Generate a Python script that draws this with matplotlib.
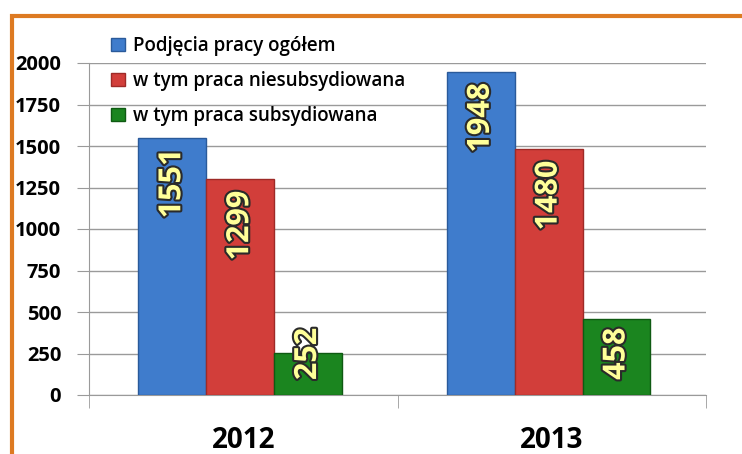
import numpy as np
import matplotlib
matplotlib.use("Agg")
import matplotlib.pyplot as plt
import matplotlib.patheffects as pe
from matplotlib.patches import Patch, Rectangle

years = ["2012", "2013"]
series_names = ["Podjęcia pracy ogółem",
                "w tym praca niesubsydiowana",
                "w tym praca subsydiowana"]
ogolem = [1551, 1948]
niesubsydiowana = [1299, 1480]
subsydiowana = [252, 458]

colors = ["#3f7ccc", "#d23e3a", "#1b851f"]
edges = ["#2a5a9a", "#9e2a27", "#0f5a12"]

plt.rcParams['font.family'] = ['Open Sans', 'DejaVu Sans']

W, H = 742, 454
fig = plt.figure(figsize=(W / 100, H / 100), dpi=100)

# orange frame (only top and left edges are visible)
fig.patches.append(Rectangle((11.5 / W, -0.1), 1.2, (H - 15.5) / H + 0.1,
                             transform=fig.transFigure, fill=False,
                             edgecolor="#dd7a22", linewidth=3, zorder=0))

ax = fig.add_axes([89 / W, 1 - 395 / H, (706 - 89) / W, (395 - 63) / H])
ax.set_facecolor("none")

x = np.arange(len(years))
bw = 0.22
data = [ogolem, niesubsydiowana, subsydiowana]
for i, vals in enumerate(data):
    pos = x + (i - 1) * bw - 0.01
    ax.bar(pos, vals, bw, color=colors[i], edgecolor=edges[i],
           linewidth=1, zorder=3, label=series_names[i])
    for px, v in zip(pos, vals):
        ytop = max(v - 70, 405)
        ax.text(px, ytop, str(v), rotation=90, ha="center", va="top",
                fontsize=22, fontweight="bold", color="#ffff99", zorder=5,
                path_effects=[pe.withStroke(linewidth=3, foreground="#2a2a2a")])

ax.set_xlim(-0.5, 1.5)
ax.set_ylim(0, 2000)
ax.set_yticks(range(0, 2001, 250))
ax.yaxis.grid(True, color="#9a9a9a", linewidth=1, zorder=0)
ax.tick_params(axis="y", length=9, color="#9a9a9a", labelsize=14.5, pad=11)
for lab in ax.get_yticklabels():
    lab.set_fontweight("bold")

ax.set_xticks(x)
ax.set_xticklabels(years, fontsize=20, fontweight="bold")
ax.set_xticks([-0.5, 0.5, 1.5], minor=True)
ax.tick_params(axis="x", which="major", length=0, pad=22)
ax.tick_params(axis="x", which="minor", length=9, color="#9a9a9a")
for s in ["top", "right"]:
    ax.spines[s].set_visible(False)
ax.spines["bottom"].set_color("#9a9a9a")
ax.spines["left"].set_color("#9a9a9a")

handles = [Patch(facecolor=colors[i], edgecolor=edges[i]) for i in range(3)]
leg = fig.legend(handles, series_names, loc="upper left",
                 bbox_to_anchor=(102 / W, 1 - 27 / H), frameon=False,
                 handlelength=0.7, handleheight=0.7, handletextpad=0.45,
                 labelspacing=0.78, borderpad=0,
                 prop={"size": 13.5, "weight": "semibold"})

fig.savefig("out.png", dpi=100)
